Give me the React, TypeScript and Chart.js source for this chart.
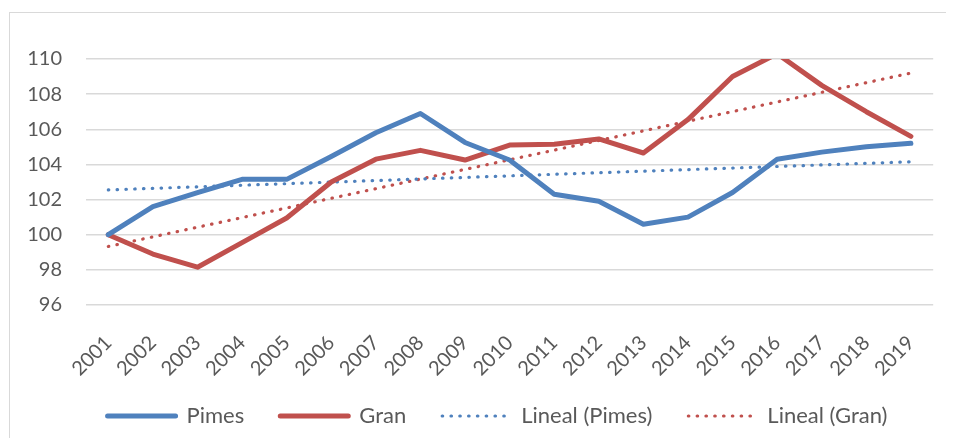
import React, { useEffect, useRef } from "react";
import { Chart, registerables } from "chart.js";

Chart.register(...registerables);

const years = ["2001","2002","2003","2004","2005","2006","2007","2008","2009","2010","2011","2012","2013","2014","2015","2016","2017","2018","2019"];
const pimes = [100, 101.6, 102.4, 103.15, 103.15, 104.45, 105.8, 106.9, 105.25, 104.25, 102.3, 101.9, 100.6, 101.0, 102.4, 104.3, 104.7, 105.0, 105.2];
const gran = [100, 98.9, 98.15, 99.55, 100.95, 103.0, 104.3, 104.8, 104.25, 105.1, 105.15, 105.45, 104.65, 106.55, 109.0, 110.3, 108.5, 107.0, 105.6];
// trend lines: endpoints (2001 and 2019)
const linealPimes = [102.55, null, null, null, null, null, null, null, null, null, null, null, null, null, null, null, null, null, 104.15];
const linealGran = [99.33, null, null, null, null, null, null, null, null, null, null, null, null, null, null, null, null, null, 109.2];
const seriesNames = ["Pimes", "Gran", "Lineal (Pimes)", "Lineal (Gran)"];
const yMin = 96;
const yMax = 110;
const yStep = 2;

const BLUE = "#4F81BD";
const RED = "#C0504D";
const TEXT = "#595959";
const GRID = "#D9D9D9";
const FONT = "Lato, 'Open Sans', sans-serif";
const DOTS = [0.5, 8.3];

const legendShift = {
  id: "legendShift",
  afterLayout(chart: any) {
    const lg = chart.legend;
    if (!lg) return;
    lg.left += 22;
    lg.right += 22;
  },
};

export default function App() {
  const ref = useRef<HTMLCanvasElement | null>(null);

  useEffect(() => {
    document.body.style.overflow = "hidden";
    document.documentElement.style.overflow = "hidden";
    const canvas = ref.current;
    if (!canvas) return;
    const chart = new Chart(canvas, {
      type: "line",
      data: {
        labels: years,
        datasets: [
          {
            label: seriesNames[0],
            data: pimes,
            borderColor: BLUE,
            backgroundColor: BLUE,
            borderWidth: 5,
            pointRadius: 0,
            tension: 0,
            borderJoinStyle: "round",
            borderCapStyle: "round",
          },
          {
            label: seriesNames[1],
            data: gran,
            borderColor: RED,
            backgroundColor: RED,
            borderWidth: 5,
            pointRadius: 0,
            tension: 0,
            borderJoinStyle: "round",
            borderCapStyle: "round",
          },
          {
            label: seriesNames[2],
            data: linealPimes,
            borderColor: BLUE,
            backgroundColor: BLUE,
            borderWidth: 3.2,
            borderDash: DOTS,
            borderCapStyle: "round",
            pointRadius: 0,
            spanGaps: true,
          },
          {
            label: seriesNames[3],
            data: linealGran,
            borderColor: RED,
            backgroundColor: RED,
            borderWidth: 3.2,
            borderDash: DOTS,
            borderCapStyle: "round",
            pointRadius: 0,
            spanGaps: true,
          },
        ],
      },
      plugins: [legendShift],
      options: {
        animation: false,
        responsive: false,
        maintainAspectRatio: false,
        layout: { padding: { left: 0, right: 5, top: 46, bottom: 1 } },
        plugins: {
          tooltip: { enabled: false },
          title: { display: false },
          legend: {
            display: true,
            position: "bottom",
            labels: {
              usePointStyle: true,
              pointStyle: "line",
              pointStyleWidth: 68,
              padding: 36,
              color: TEXT,
              font: { family: FONT, size: 22 },
              generateLabels: (c: any) => {
                const items = Chart.defaults.plugins.legend.labels.generateLabels(c);
                return items.map((it: any, i: number) => {
                  const dotted = i >= 2;
                  return {
                    ...it,
                    pointStyle: "line",
                    lineWidth: dotted ? 3.2 : 5,
                    lineDash: dotted ? DOTS : [],
                    lineCap: "round",
                    strokeStyle: i % 2 === 0 ? BLUE : RED,
                    fillStyle: i % 2 === 0 ? BLUE : RED,
                  };
                });
              },
            },
          },
        },
        scales: {
          x: {
            offset: true,
            grid: { display: false },
            border: { display: false },
            ticks: {
              autoSkip: false,
              minRotation: 45,
              maxRotation: 45,
              padding: 18,
              color: TEXT,
              font: { family: FONT, size: 20 },
            },
            afterFit: (s: any) => {
              s.height = 64;
              s._computeLabelArea = () => undefined;
            },
          },
          y: {
            min: yMin,
            max: yMax,
            grid: { color: GRID, lineWidth: 1.5, drawTicks: false },
            border: { display: false },
            ticks: {
              stepSize: yStep,
              padding: 24,
              color: TEXT,
              font: { family: FONT, size: 20 },
            },
            afterFit: (s: any) => {
              s.width = 76;
            },
          },
        },
      },
    });
    return () => chart.destroy();
  }, []);

  return (
    <div
      style={{
        position: "relative",
        width: 936,
        height: 425,
        marginLeft: 1,
        marginTop: 4,
        borderTop: "1px solid #D9D9D9",
        borderLeft: "1px solid #D9D9D9",
      }}
    >
      <canvas ref={ref} width={936} height={425} style={{ display: "block", width: 936, height: 425 }} />
    </div>
  );
}
